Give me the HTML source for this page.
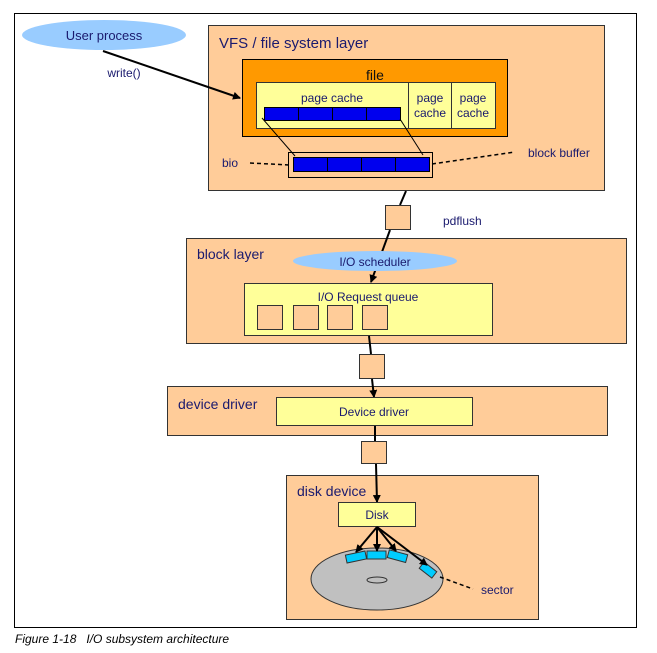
<!DOCTYPE html>
<html><head><meta charset="utf-8"><style>
html,body{margin:0;padding:0;background:#fff;}
svg{display:block;}
text{font-family:"Liberation Sans",Arial,sans-serif;fill:#1a1a6e;}
</style></head><body>
<svg width="657" height="653" viewBox="0 0 657 653" xmlns="http://www.w3.org/2000/svg">
<defs>
<marker id="ah" markerWidth="8" markerHeight="8" refX="7" refY="4" orient="auto" markerUnits="userSpaceOnUse">
<path d="M0,0 L8,4 L0,8 Z" fill="#000"/></marker>
</defs>
<rect x="14.5" y="13.5" width="622" height="614" fill="#fff" stroke="#000" stroke-width="1"/>

<ellipse cx="104" cy="35" rx="82" ry="15" fill="#99ccff"/>
<text x="104" y="40" font-size="13" text-anchor="middle">User process</text>
<text x="124" y="77" font-size="12" text-anchor="middle">write()</text>

<rect x="208.5" y="25.5" width="396" height="165" fill="#ffcc99" stroke="#333"/>
<text x="219" y="48" font-size="15">VFS / file system layer</text>
<line x1="103" y1="51" x2="240" y2="98" stroke="#000" stroke-width="2" marker-end="url(#ah)"/>
<rect x="242.5" y="59.5" width="265" height="77" fill="#ff9900" stroke="#000"/>
<text x="375" y="80" font-size="14" text-anchor="middle" style="fill:#111">file</text>
<rect x="256.5" y="82.5" width="152" height="46" fill="#ffff99" stroke="#333"/>
<rect x="408.5" y="82.5" width="43" height="46" fill="#ffff99" stroke="#333"/>
<rect x="451.5" y="82.5" width="44" height="46" fill="#ffff99" stroke="#333"/>
<text x="332" y="102" font-size="12" text-anchor="middle">page cache</text>
<text x="430" y="102" font-size="12" text-anchor="middle">page</text>
<text x="430" y="117" font-size="12" text-anchor="middle">cache</text>
<text x="473" y="102" font-size="12" text-anchor="middle">page</text>
<text x="473" y="117" font-size="12" text-anchor="middle">cache</text>
<g stroke="#000" fill="#0000ee">
<rect x="264.5" y="107.5" width="34" height="13"/><rect x="298.5" y="107.5" width="34" height="13"/>
<rect x="332.5" y="107.5" width="34" height="13"/><rect x="366.5" y="107.5" width="34" height="13"/>
</g>
<rect x="288.5" y="152.5" width="144" height="25" fill="none" stroke="#000"/>
<g stroke="#000" fill="#0000ee">
<rect x="293.5" y="157.5" width="34" height="14"/><rect x="327.5" y="157.5" width="34" height="14"/>
<rect x="361.5" y="157.5" width="34" height="14"/><rect x="395.5" y="157.5" width="34" height="14"/>
</g>
<line x1="262" y1="118" x2="295" y2="156" stroke="#000"/>
<line x1="400" y1="119" x2="423" y2="155" stroke="#000"/>
<text x="222" y="167" font-size="12">bio</text>
<line x1="250" y1="163" x2="290" y2="165" stroke="#000" stroke-width="1.5" stroke-dasharray="4,3"/>
<line x1="432" y1="164" x2="515" y2="152" stroke="#000" stroke-width="1.5" stroke-dasharray="4,3"/>
<text x="528" y="157" font-size="12">block buffer</text>

<line x1="406" y1="191" x2="400" y2="205" stroke="#000" stroke-width="2"/>
<rect x="385.5" y="205.5" width="25" height="24" fill="#ffcc99" stroke="#333"/>
<text x="443" y="225" font-size="12">pdflush</text>

<rect x="186.5" y="238.5" width="440" height="105" fill="#ffcc99" stroke="#333"/>
<text x="197" y="259" font-size="14">block layer</text>
<line x1="390" y1="230" x2="371" y2="282" stroke="#000" stroke-width="2" marker-end="url(#ah)"/>
<rect x="244.5" y="283.5" width="248" height="52" fill="#ffff99" stroke="#333"/>
<ellipse cx="375" cy="261" rx="82" ry="10" fill="#99ccff"/>
<text x="375" y="266" font-size="12" text-anchor="middle">I/O scheduler</text>
<text x="368" y="301" font-size="12" text-anchor="middle">I/O Request queue</text>
<g fill="#ffcc99" stroke="#333">
<rect x="257.5" y="305.5" width="25" height="24"/><rect x="293.5" y="305.5" width="25" height="24"/>
<rect x="327.5" y="305.5" width="25" height="24"/><rect x="362.5" y="305.5" width="25" height="24"/>
</g>

<line x1="369" y1="336" x2="371" y2="354" stroke="#000" stroke-width="2"/>
<rect x="359.5" y="354.5" width="25" height="24" fill="#ffcc99" stroke="#333"/>

<rect x="167.5" y="386.5" width="440" height="49" fill="#ffcc99" stroke="#333"/>
<line x1="372" y1="379" x2="374" y2="397" stroke="#000" stroke-width="2" marker-end="url(#ah)"/>
<text x="178" y="409" font-size="14">device driver</text>
<rect x="276.5" y="397.5" width="196" height="28" fill="#ffff99" stroke="#333"/>
<text x="374" y="416" font-size="12" text-anchor="middle">Device driver</text>
<line x1="375" y1="426" x2="375" y2="441" stroke="#000" stroke-width="2"/>
<rect x="361.5" y="441.5" width="25" height="22" fill="#ffcc99" stroke="#333"/>

<rect x="286.5" y="475.5" width="252" height="144" fill="#ffcc99" stroke="#333"/>
<text x="297" y="496" font-size="14">disk device</text>
<line x1="376" y1="464" x2="377" y2="502" stroke="#000" stroke-width="2" marker-end="url(#ah)"/>
<rect x="338.5" y="502.5" width="77" height="24" fill="#ffff99" stroke="#333"/>
<text x="377" y="519" font-size="12" text-anchor="middle">Disk</text>
<ellipse cx="377" cy="579" rx="66" ry="31" fill="#c0c0c0" stroke="#333"/>
<ellipse cx="377" cy="580" rx="10" ry="3" fill="none" stroke="#333"/>
<g fill="#00ccff" stroke="#333">
<rect x="346" y="553" width="20" height="8" transform="rotate(-12 356 557)"/>
<rect x="367" y="551" width="19" height="8"/>
<rect x="388" y="552" width="19" height="8" transform="rotate(15 397 556)"/>
<rect x="420" y="566" width="16" height="8" transform="rotate(38 428 570)"/>
</g>
<g stroke="#000" stroke-width="2">
<line x1="377" y1="527" x2="356" y2="552" marker-end="url(#ah)"/>
<line x1="377" y1="527" x2="377" y2="551" marker-end="url(#ah)"/>
<line x1="377" y1="527" x2="396" y2="551" marker-end="url(#ah)"/>
<line x1="377" y1="527" x2="427" y2="565" marker-end="url(#ah)"/>
</g>
<line x1="440" y1="577" x2="473" y2="589" stroke="#000" stroke-width="1.5" stroke-dasharray="4,3"/>
<text x="481" y="594" font-size="12">sector</text>

<text x="15" y="643" font-size="12" font-style="italic" style="fill:#000">Figure 1-18&#160;&#160;&#160;I/O subsystem architecture</text>
</svg>
</body></html>
